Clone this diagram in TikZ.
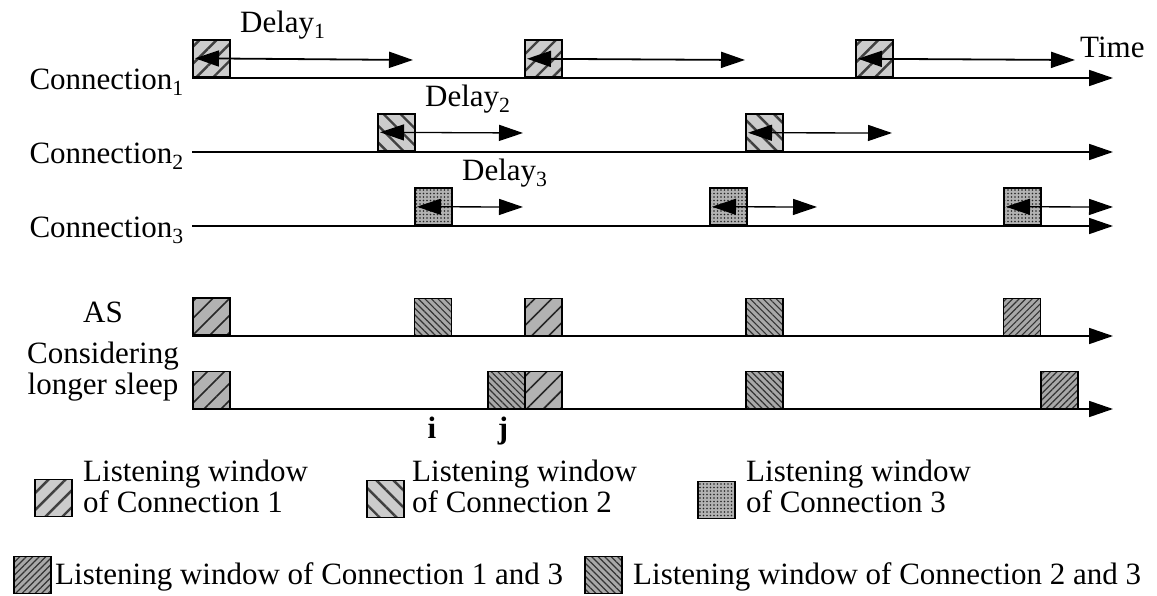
\documentclass[tikz,border=0pt]{standalone}
\usepackage{fontspec}
\setmainfont{Liberation Serif}
\usetikzlibrary{arrows.meta,patterns.meta}
\definecolor{winlight}{gray}{0.80}
\definecolor{winmid}{gray}{0.70}
\definecolor{windark}{gray}{0.66}
\definecolor{stripe}{gray}{0.25}
\tikzset{
    %Define standard arrow tip
    >={Triangle[length=24pt,width=16pt]},
    %Define style for listening windows
    win/.style={
           rectangle,
           draw=black, line width=1.5pt,
           minimum width=37pt,
           minimum height=37pt,
           inner sep=0pt,
           anchor=south west},
    winone/.style={win,
           preaction={fill=winlight},
           pattern={Lines[angle=45,distance=12pt,line width=2.4pt]},
           pattern color=stripe},
    wintwo/.style={win,
           preaction={fill=winlight},
           pattern={Lines[angle=-45,distance=12pt,line width=2.4pt]},
           pattern color=stripe},
    winthree/.style={win,
           preaction={fill=winmid},
           pattern={Dots[distance=3.5pt,radius=0.8pt]},
           pattern color=black!85},
    winas/.style={win,
           preaction={fill=winmid},
           pattern={Lines[angle=45,distance=12pt,line width=1.6pt]},
           pattern color=black!85},
    winot/.style={win,
           preaction={fill=windark},
           pattern={Lines[angle=45,distance=4.6pt,line width=1.2pt]},
           pattern color=black!80},
    wintt/.style={win,
           preaction={fill=windark},
           pattern={Lines[angle=-45,distance=4.6pt,line width=1.2pt]},
           pattern color=black!80},
    %Define style for texts
    lbl/.style={inner sep=0pt, font=\fontsize{31}{31}\selectfont},
    % Define arrow styles
    timeline/.style={->, line width=1.7pt},
    delay/.style={<->, line width=1.8pt},
    delaythin/.style={<->, line width=1.3pt}
}
\begin{document}
\begin{tikzpicture}[x=1pt,y=-1pt]
 \useasboundingbox (0,0) rectangle (1157,596);

 % time lines
 \coordinate (c1s) at (192,78);   \coordinate (c1e) at (1113,78);
 \coordinate (c2s) at (192,152);  \coordinate (c2e) at (1113,152);
 \coordinate (c3s) at (192,226);  \coordinate (c3e) at (1113,226);
 \coordinate (ass) at (192,336);  \coordinate (ase) at (1113,336);
 \coordinate (lss) at (192,409);  \coordinate (lse) at (1113,409);
 \draw[timeline] (c1s) -- (c1e);
 \draw[timeline] (c2s) -- (c2e);
 \draw[timeline] (c3s) -- (c3e);
 \draw[timeline] (ass) -- (ase);
 \draw[timeline] (lss) -- (lse);

 \node[lbl, anchor=base east] (conn1) at (184,90) {Connection\textsubscript{1}};
 \node[lbl, anchor=base east] (conn2) at (184,164) {Connection\textsubscript{2}};
 \node[lbl, anchor=base east] (conn3) at (184,238) {Connection\textsubscript{3}};
 \node[lbl, anchor=base west] (time) at (1080,58) {Time};

 % Connection 1
 \node[winone] (w11) at (192,78) {};
 \node[winone] (w12) at (524,78) {};
 \node[winone] (w13) at (855,78) {};
 \coordinate (d11) at (413,60);
 \coordinate (d12) at (745,60);
 \coordinate (d13) at (1075,60);
 \draw[delay] ([xshift=3pt]w11.west) -- (d11);
 \draw[delay] ([xshift=3pt]w12.west) -- (d12);
 \draw[delay] ([xshift=3pt]w13.west) -- (d13);
 \node[lbl, anchor=base west] (delay1) at (240,33) {Delay\textsubscript{1}};

 % Connection 2
 \node[wintwo] (w21) at (377,152) {};
 \node[wintwo] (w22) at (745,152) {};
 \coordinate (d21) at (523,133);
 \coordinate (d22) at (892,133);
 \draw[delaythin] ([xshift=3pt]w21.west) -- (d21);
 \draw[delaythin] ([xshift=3pt]w22.west) -- (d22);
 \node[lbl, anchor=base west] (delay2) at (425,107) {Delay\textsubscript{2}};

 % Connection 3
 \node[winthree] (w31) at (414,226) {};
 \node[winthree] (w32) at (709,226) {};
 \node[winthree] (w33) at (1003,226) {};
 \coordinate (d31) at (523,207);
 \coordinate (d32) at (817,207);
 \coordinate (d33) at (1113,207);
 \draw[delaythin] ([xshift=3pt]w31.west) -- (d31);
 \draw[delaythin] ([xshift=3pt]w32.west) -- (d32);
 \draw[delaythin] ([xshift=3pt]w33.west) -- (d33);
 \node[lbl, anchor=base west] (delay3) at (462,181) {Delay\textsubscript{3}};

 % AS
 \node[winas] (a1) at (192,336) {};
 \node[wintt] (a2) at (414,336) {};
 \node[winas] (a3) at (524,336) {};
 \node[wintt] (a4) at (745,336) {};
 \node[winot] (a5) at (1003,336) {};

 % considering longer sleep
 \node[winas] (s1) at (192,409) {};
 \node[wintt] (s2) at (487,409) {};
 \node[winas] (s3) at (524,409) {};
 \node[wintt] (s4) at (745,409) {};
 \node[winot] (s5) at (1040,409) {};
 \node[lbl, anchor=north, align=center] (aslabel) at (103,302)
   {AS\\[10pt]Considering\\longer sleep};
 \node[lbl, anchor=base] (mi) at (432,438) {\textbf{i}};
 \node[lbl, anchor=base] (mj) at (503,438) {\textbf{j}};

 % legend
 \node[winone] (l1) at (34,517) {};
 \node[lbl, anchor=north west, align=left] (lt1) at (83,460)
   {Listening window\\of Connection 1};
 \node[wintwo] (l2) at (366,518) {};
 \node[lbl, anchor=north west, align=left] (lt2) at (412,460)
   {Listening window\\of Connection 2};
 \node[winthree] (l3) at (697,519) {};
 \node[lbl, anchor=north west, align=left] (lt3) at (746,460)
   {Listening window\\of Connection 3};
 \node[winot] (l4) at (13,594) {};
 \node[lbl, anchor=base west] (lt4) at (55,584) {Listening window of Connection 1 and 3};
 \node[wintt] (l5) at (584,594) {};
 \node[lbl, anchor=base west] (lt5) at (633,584) {Listening window of Connection 2 and 3};
\end{tikzpicture}
\end{document}
